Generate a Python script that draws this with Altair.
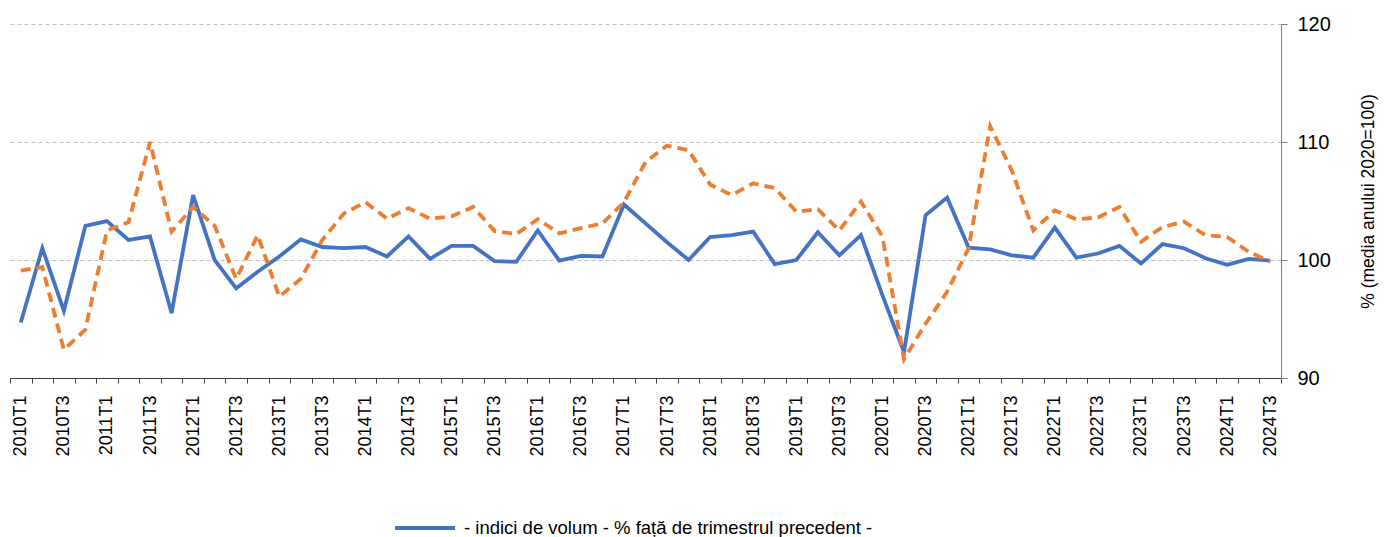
import altair as alt
import pandas as pd

years = list(range(2010, 2025))
quarter_nums = [1, 2, 3, 4]
quarters = [f"{y}T{q}" for y in years for q in quarter_nums][:59]

blue_vals = [
    94.7, 101.0, 95.7, 102.9, 103.3, 101.7, 102.0, 95.5, 105.5, 100.0,
    97.6, 99.0, 100.3, 101.75, 101.1, 101.0, 101.1, 100.3, 102.0, 100.1,
    101.2, 101.2, 99.9, 99.85, 102.5, 99.95, 100.35, 100.3, 104.7, 103.1,
    101.5, 100.0, 101.95, 102.1, 102.4, 99.65, 100.0, 102.35, 100.4, 102.1,
    97.0, 92.2, 103.8, 105.3, 101.05, 100.9, 100.4, 100.2, 102.75, 100.2,
    100.55, 101.2, 99.7, 101.35, 101.0, 100.15, 99.6, 100.1, 99.95,
]

orange_vals = [
    99.1, 99.4, 92.4, 94.1, 102.5, 103.2, 110.0, 102.4, 104.5, 102.9,
    98.4, 102.1, 96.9, 98.4, 101.7, 103.95, 104.9, 103.5, 104.4, 103.5,
    103.7, 104.5, 102.45, 102.2, 103.45, 102.25, 102.7, 103.1, 104.9, 108.3,
    109.7, 109.3, 106.4, 105.5, 106.5, 106.1, 104.1, 104.3, 102.5, 104.95,
    102.0, 91.6, 94.6, 97.3, 101.0, 111.35, 107.6, 102.5, 104.2, 103.45,
    103.6, 104.5, 101.55, 102.8, 103.25, 102.1, 101.95, 100.7, 99.85,
]

series_names = [
    "- indici de volum - % față de trimestrul precedent -",
    "- indici de volum - % față de trimestrul corespunzător din anul precedent -",
]
series_colors = ["#4472C4", "#ED7D31"]
y_ticks = [90, 100, 110, 120]

n = len(quarters)
rows = []
for name, vals in zip(series_names, [blue_vals, orange_vals]):
    for i, (q, v) in enumerate(zip(quarters, vals)):
        rows.append({"idx": i, "quarter": q, "value": v, "series": name})
df = pd.DataFrame(rows)

FONT = "Liberation Sans"

label_array = "[" + ",".join(f"'{q}'" for q in quarters) + "]"
label_expr = f"{label_array}[round(datum.value)]"

x_scale = alt.Scale(domain=[-0.5, n - 0.5], nice=False, zero=False)

# axis with tick marks on category boundaries (no labels)
axis_ticks = alt.Axis(
    orient="bottom",
    title=None,
    values=[i - 0.5 for i in range(n + 1)],
    labels=False,
    ticks=True,
    tickSize=5,
    tickColor="#404040",
    domain=True,
    domainColor="#404040",
    domainWidth=1,
    grid=False,
)

# axis with labels at category centres, every second quarter
axis_labels = alt.Axis(
    orient="bottom",
    title=None,
    values=list(range(0, n, 2)),
    labelExpr=label_expr,
    labelAngle=270,
    labelAlign="right",
    labelBaseline="middle",
    labelFontSize=18,
    labelFont=FONT,
    labelColor="#000000",
    labelPadding=17,
    labelOverlap=False,
    labelFlush=False,
    ticks=False,
    domain=False,
    grid=False,
)

y_axis = alt.Axis(
    orient="right",
    values=y_ticks,
    title="% (media anului 2020=100)",
    titleAngle=270,
    titleFontSize=17.5,
    titleFont=FONT,
    titleFontWeight="normal",
    titleColor="#000000",
    titlePadding=47,
    labelFontSize=20,
    labelFont=FONT,
    labelColor="#000000",
    labelPadding=10,
    tickSize=6,
    tickColor="#808080",
    domainColor="#808080",
    grid=True,
    gridDash=[4, 3],
    gridColor="#BFBFBF",
    gridWidth=1,
)

color_enc = alt.Color(
    "series:N",
    sort=series_names,
    scale=alt.Scale(domain=series_names, range=series_colors),
    legend=alt.Legend(
        title=None,
        orient="none",
        legendX=383,
        legendY=472,
        direction="vertical",
        symbolType="stroke",
        symbolSize=3600,
        symbolStrokeWidth=4,
        labelFontSize=18.5,
        labelFont=FONT,
        labelColor="#000000",
        labelOffset=7,
        labelLimit=1000,
        rowPadding=6,
        padding=0,
    ),
)

y_enc = alt.Y("value:Q", scale=alt.Scale(domain=[90, 120], nice=False, zero=False), axis=y_axis)

blue = (
    alt.Chart(df)
    .transform_filter(alt.datum.series == series_names[0])
    .mark_line(strokeWidth=3.8)
    .encode(
        x=alt.X("idx:Q", scale=x_scale, axis=axis_ticks),
        y=y_enc,
        color=color_enc,
    )
)

orange = (
    alt.Chart(df)
    .transform_filter(alt.datum.series == series_names[1])
    .mark_line(strokeWidth=3.8, strokeDash=[10, 6])
    .encode(
        x=alt.X("idx:Q", scale=x_scale, axis=axis_labels),
        y=y_enc,
        color=color_enc,
    )
)

chart = (
    alt.layer(blue, orange)
    .resolve_axis(x="independent")
    .properties(
        width=1271,
        height=354,
        autosize=alt.AutoSizeParams(type="none"),
        padding={"left": 2, "top": 16, "right": 102, "bottom": 160},
        background="#ffffff",
    )
    .configure_view(stroke=None)
)

chart.save("out.html", embed_options={"renderer": "svg", "actions": False})
